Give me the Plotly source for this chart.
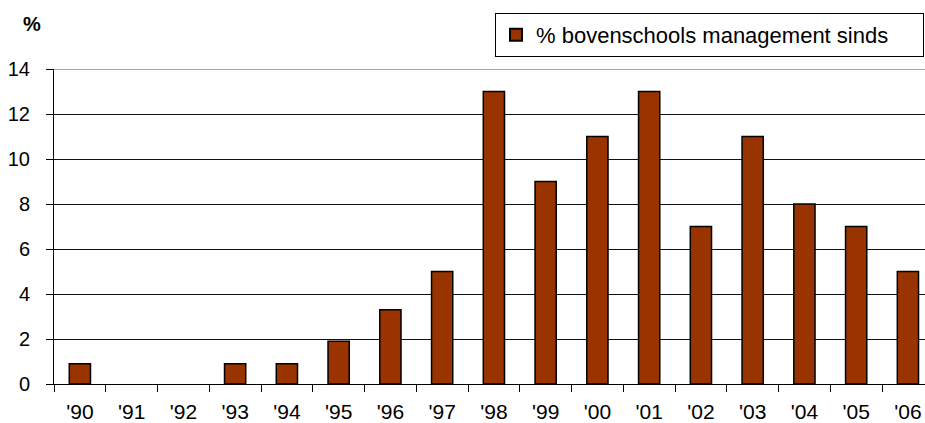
import plotly.graph_objects as go

# Percentage of schools with board-level management, by starting year
years = ["'90", "'91", "'92", "'93", "'94", "'95", "'96", "'97", "'98",
         "'99", "'00", "'01", "'02", "'03", "'04", "'05", "'06"]
pct = [0.9, 0, 0, 0.9, 0.9, 1.9, 3.3, 5, 13, 9, 11, 13, 7, 11, 8, 7, 5]
y_ticks = [0, 2, 4, 6, 8, 10, 12, 14]
series_name = "% bovenschools management sinds"

FONT = "Liberation Sans, Arial, sans-serif"
W, H = 925, 423
PLOT_W = W - 54

# empty years get no outline so nothing is drawn on the baseline
edge_widths = [1.5 if v > 0 else 0 for v in pct]

fig = go.Figure()
fig.add_trace(go.Bar(
    x=years, y=pct, name=series_name,
    marker=dict(color="#993300", line=dict(color="#000000", width=edge_widths)),
    width=0.41,
    showlegend=True,
))

fig.update_layout(
    width=W, height=H,
    margin=dict(l=54, r=0, t=68.5, b=38.7, pad=0, autoexpand=False),
    paper_bgcolor="white", plot_bgcolor="white",
    font=dict(family=FONT, size=20, color="#000000"),
    showlegend=True,
    legend=dict(
        orientation="h",
        xref="container", yref="container",
        x=924 / W, y=1 - 13 / H, xanchor="right", yanchor="top",
        bordercolor="#000000", borderwidth=1, bgcolor="white",
        font=dict(family=FONT, size=22, color="#000000"),
        itemsizing="constant",
        entrywidth=382, entrywidthmode="pixels",
    ),
    xaxis=dict(
        type="category",
        range=[-0.5, 16.33],
        tickson="boundaries", ticks="outside", ticklen=7, tickcolor="#000000",
        showgrid=False, showline=True, linecolor="#000000", linewidth=1,
        tickfont=dict(family=FONT, size=21), tickangle=0,
        ticklabelstandoff=9,
        zeroline=False,
    ),
    yaxis=dict(
        range=[0, 14], tickvals=y_ticks,
        ticks="outside", ticklen=7, tickcolor="#000000",
        showgrid=True, gridcolor="#111111", gridwidth=1,
        showline=True, linecolor="#000000", linewidth=1,
        zeroline=False,
        tickfont=dict(family=FONT, size=20),
        ticklabelstandoff=12,
    ),
    bargap=0.59,
)

# Lighter top rule at the axis maximum
fig.add_shape(type="line", xref="paper", yref="y", x0=0, x1=1, y0=14, y1=14,
              line=dict(color="#888888", width=1.5), layer="below")

# Unit label above the value axis
fig.add_annotation(text="<b>%</b>", xref="paper", yref="paper",
                   x=-22 / PLOT_W, y=1 + (68.5 - 23.5) / 315.8,
                   xanchor="center", yanchor="middle", showarrow=False,
                   font=dict(family=FONT, size=20, color="#000000"))

fig.write_html("out.html")
